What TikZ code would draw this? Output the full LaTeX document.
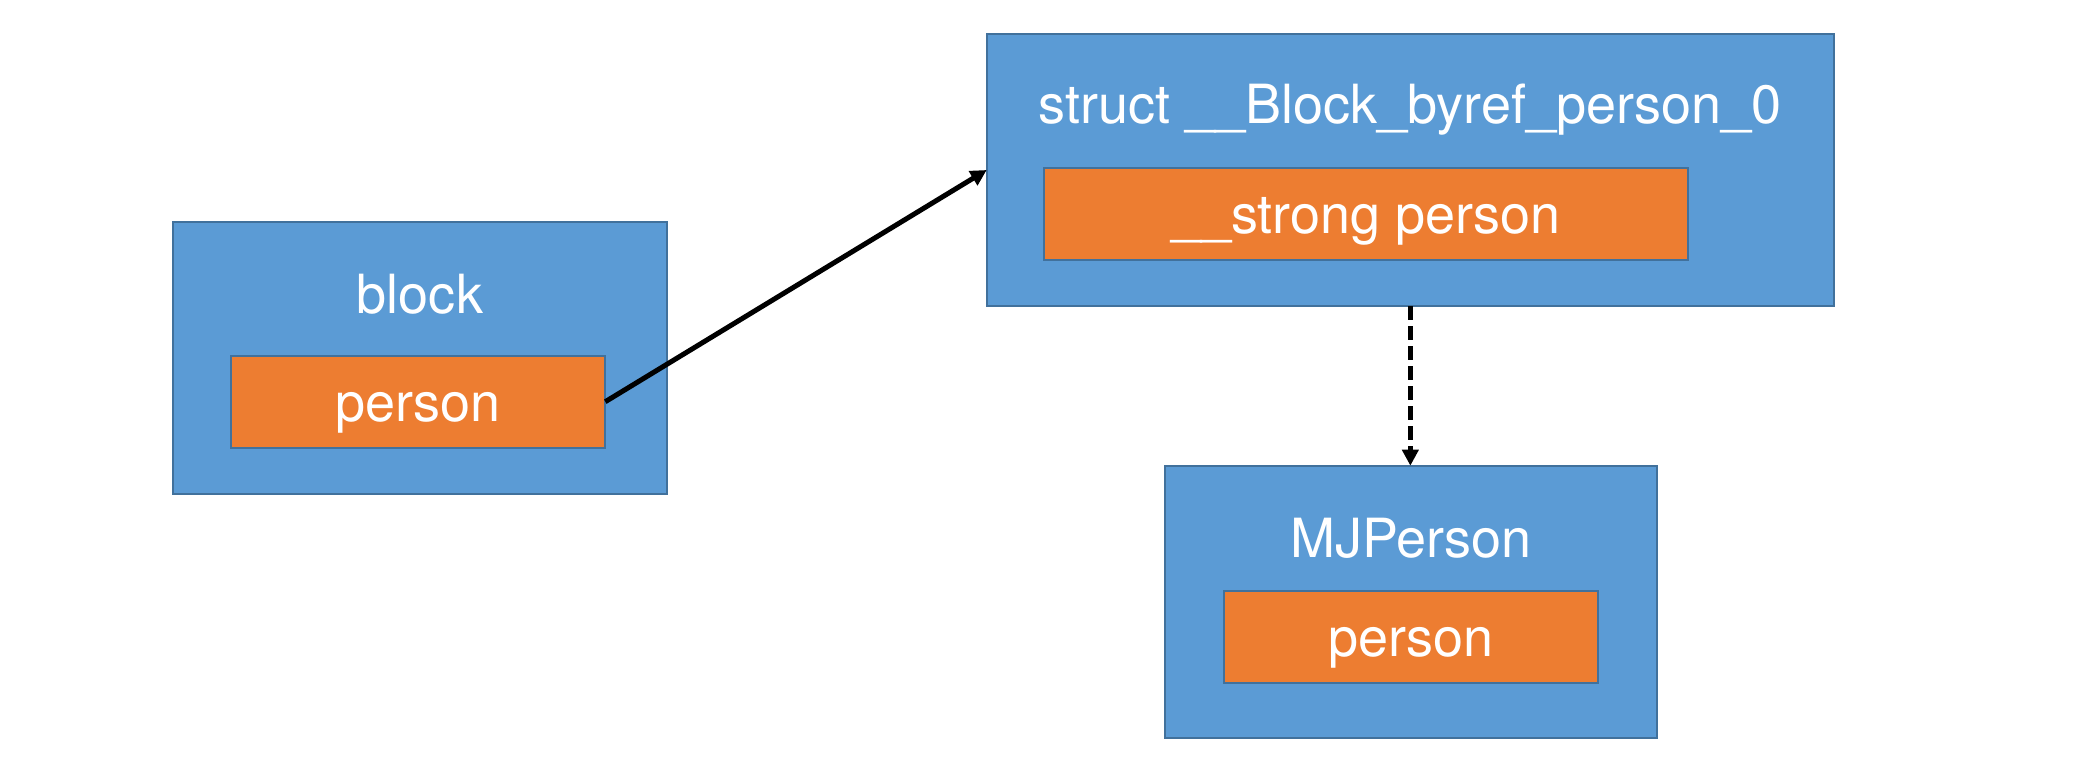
\documentclass[tikz,border=0pt]{standalone}
\usepackage{fontspec}
\setmainfont{TeX Gyre Heros}
\usetikzlibrary{arrows.meta}
\definecolor{boxblue}{HTML}{5B9BD5}
\definecolor{boxorange}{HTML}{ED7D31}
\definecolor{edgeblue}{HTML}{41719C}
\begin{document}
\begin{tikzpicture}[x=1pt,y=-1pt,
  outerbox/.style={draw=edgeblue, line width=2pt, fill=boxblue, inner sep=0pt, outer sep=0pt},
  innerbox/.style={draw=edgeblue, line width=2pt, fill=boxorange, inner sep=0pt, outer sep=0pt},
  lbl/.style={text=white, font=\fontsize{54}{60}\selectfont, anchor=base, inner sep=0pt},
  conn/.style={line width=5pt, -{Triangle[length=16pt,width=16pt]}}]
\useasboundingbox (0,0) rectangle (2080,772);
% boxes
\node[outerbox, minimum width=493.4pt, minimum height=272.3pt] (blockbox) at (420,357.85) {};
\node[innerbox, minimum width=374.6pt, minimum height=92pt] (blockinner) at (418,401.7) {};
\node[outerbox, minimum width=847.3pt, minimum height=272pt] (structbox) at (1410.35,170) {};
\node[innerbox, minimum width=644.6pt, minimum height=92.3pt] (structinner) at (1366,213.85) {};
\node[outerbox, minimum width=492.6pt, minimum height=272pt] (mjbox) at (1411,601.7) {};
\node[innerbox, minimum width=374.3pt, minimum height=92pt] (mjinner) at (1410.85,637) {};
% labels
\node[lbl] (blocklbl) at (420,313) {block};
\node[lbl] (blockinnerlbl) at (418,421.7) {person};
\node[lbl] (structlbl) at (1410,123.5) {struct \_\_Block\_byref\_person\_0};
\node[lbl] (structinnerlbl) at (1366,233.3) {\_\_strong person};
\node[lbl] (mjlbl) at (1411,557.7) {MJPerson};
\node[lbl] (mjinnerlbl) at (1410.85,656.7) {person};
% connectors
\draw[conn] (blockinner.east) -- (structbox.west);
\draw[conn, dash pattern=on 14pt off 6pt] (structbox.south) -- (structbox.south |- mjbox.north);
\end{tikzpicture}
\end{document}
